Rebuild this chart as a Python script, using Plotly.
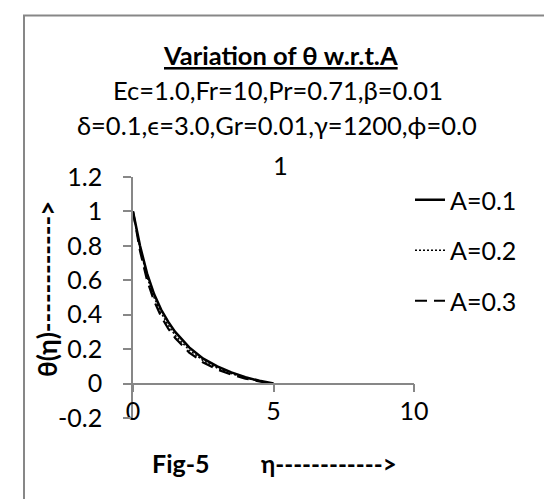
import plotly.graph_objects as go

# ---- data ----
eta = [0, 0.25, 0.5, 0.75, 1.0, 1.25, 1.5, 2.0, 2.5, 3.0, 3.5, 4.0, 4.5, 5.0]
theta_A01 = [1.0, 0.80, 0.64, 0.52, 0.43, 0.36, 0.30, 0.21, 0.145, 0.10, 0.065, 0.037, 0.016, 0.0]
theta_A02 = [1.0, 0.785, 0.62, 0.50, 0.41, 0.34, 0.28, 0.195, 0.133, 0.09, 0.058, 0.033, 0.014, 0.0]
theta_A03 = [1.0, 0.77, 0.60, 0.48, 0.39, 0.32, 0.265, 0.18, 0.122, 0.082, 0.052, 0.029, 0.012, 0.0]
series_names = ["A=0.1", "A=0.2", "A=0.3"]

y_tickvals = [-0.2, 0, 0.2, 0.4, 0.6, 0.8, 1.0, 1.2]
y_ticktext = ["-0.2", "0", "0.2", "0.4", "0.6", "0.8", "1", "1.2"]
x_tickvals = [0, 5, 10]
x_ticktext = ["0", "5", "10"]

FONT = "Lato"
GREY = "#878787"
W, H = 552, 499
L, R, T, B = 125, 146, 169, 89
TICK = 25

fig = go.Figure()
styles = [
    dict(color="black", width=2.5, dash="solid"),
    dict(color="black", width=1.5, dash="2px,2px"),
    dict(color="black", width=2.2, dash="12px,7px"),
]
for i, (name, ys) in enumerate(zip(series_names, [theta_A01, theta_A02, theta_A03])):
    fig.add_trace(go.Scatter(x=eta, y=ys, mode="lines", name=name,
                             line=styles[i], legendgroup=name))

pw = W - L - R
ph = H - T - B
def px_x(p):
    return (p - L) / pw
def px_y(p):
    return (H - B - p) / ph

fig.update_layout(
    width=W, height=H,
    margin=dict(l=L, r=R, t=T, b=B),
    paper_bgcolor="white", plot_bgcolor="white",
    font=dict(family=FONT, color="black", size=TICK),
    showlegend=True,
    legend=dict(x=px_x(402), y=px_y(169), xanchor="left", yanchor="top",
                font=dict(size=TICK, family=FONT), tracegroupgap=15,
                bgcolor="rgba(0,0,0,0)", itemwidth=30),
    xaxis=dict(range=[0, 10], tickvals=x_tickvals, ticktext=x_ticktext,
               showline=False, ticks="", showgrid=False, zeroline=False,
               anchor="free", position=px_y(386),
               tickfont=dict(size=TICK, family=FONT)),
    xaxis2=dict(range=[0, 10], tickvals=x_tickvals, overlaying="x",
                showline=True, linecolor=GREY, linewidth=1.5,
                ticks="outside", ticklen=8, tickcolor=GREY, tickwidth=1.5,
                showticklabels=False, showgrid=False, zeroline=False,
                anchor="free", position=(0 - (-0.2)) / 1.4),
    yaxis=dict(range=[-0.2, 1.2], tickvals=y_tickvals, ticktext=y_ticktext,
               showline=True, linecolor=GREY, linewidth=1.5,
               ticks="outside", ticklen=8, tickcolor=GREY, tickwidth=1.5,
               showgrid=False, zeroline=False, ticklabelstandoff=16,
               tickfont=dict(size=TICK, family=FONT)),
)
# dummy trace to activate xaxis2
fig.add_trace(go.Scatter(x=[None], y=[None], xaxis="x2", showlegend=False, hoverinfo="skip"))

ann = [
    ("<b><u>Variation of θ w.r.t.A</u></b>", 272, 47, 25.5, 0),
    ("Ec=1.0,Fr=10,Pr=0.71,β=0.01", 270, 82, 25.5, 0),
    ("δ=0.1,ϵ=3.0,Gr=0.01,γ=1200,ϕ=0.0", 269, 117, 25.5, 0),
    ("1", 272, 157, 25.5, 0),
    ("<b>θ(η)------------></b>", 39, 281, 26, -90),
    ("<b>Fig-5</b>", 173, 455, 25, 0),
    ("<b>η------------></b>", 321, 455, 24, 0),
]
for text, x, y, size, ang in ann:
    fig.add_annotation(text=text, x=px_x(x), y=px_y(y), xref="paper", yref="paper",
                       showarrow=False, xanchor="center", yanchor="middle",
                       textangle=ang, font=dict(size=size, family=FONT, color="black"))

# chart-area border (left and top edges visible in the reference)
fig.add_shape(type="rect", xref="paper", yref="paper",
              x0=px_x(16), x1=px_x(W + 10), y0=px_y(H + 10), y1=px_y(7.5),
              line=dict(color=GREY, width=2), fillcolor="rgba(0,0,0,0)", layer="below")

fig.write_html("out.html")
